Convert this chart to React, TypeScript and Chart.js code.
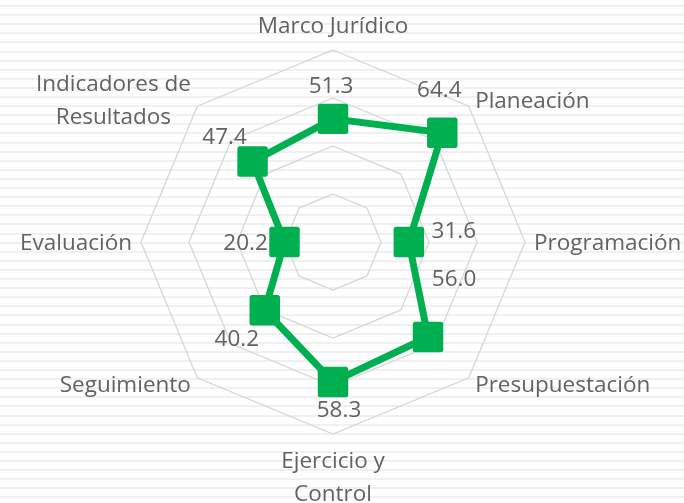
import React, { useEffect, useRef } from "react";
import { Chart, registerables } from "chart.js";

Chart.register(...registerables);

// ---------- data ----------
const CATEGORIES: (string | string[])[] = [
  "Marco Jurídico",
  "Planeación",
  "Programación",
  "Presupuestación",
  ["Ejercicio y", "Control"],
  "Seguimiento",
  "Evaluación",
  ["Indicadores de", "Resultados"],
];
const VALUES: number[] = [51.3, 64.4, 31.6, 56.0, 58.3, 40.2, 20.2, 47.4];
const SCALE_MIN = 0;
const SCALE_MAX = 80;
const SCALE_STEP = 20;

// ---------- style ----------
const GREEN = "#00B050";
const GRID = "#d6d6d6";
const TEXT = "#626262";
const FONT_FAMILY = "'Open Sans', 'Noto Sans', sans-serif";
const FONT_WEIGHT = 400;
const FONT_SIZE = 22.5;
const LINE_H = 33;
const LABEL_GAP = 9;
// data-label offsets from each marker (layout only)
const LABEL_OFFSETS: [number, number][] = [
  [-2, -34],
  [-3, -44],
  [45, -12],
  [26, -59],
  [6, 27],
  [-28, 28],
  [-39, 0],
  [-28, -26],
];

const W = 684;
const H = 503;

const roundJoinPlugin = {
  id: "roundJoin",
  beforeDatasetsDraw(chart: any) {
    chart.ctx.save();
    chart.ctx.lineJoin = "round";
  },
  afterDatasetsDraw(chart: any) {
    chart.ctx.restore();
  },
};

const pointLabelPlugin = {
  id: "customPointLabels",
  afterDraw(chart: any) {
    const scale = chart.scales.r;
    const ctx = chart.ctx as CanvasRenderingContext2D;
    ctx.save();
    ctx.font = `${FONT_WEIGHT} ${FONT_SIZE}px ${FONT_FAMILY}`;
    ctx.fillStyle = TEXT;
    ctx.textAlign = "center";
    ctx.textBaseline = "alphabetic";
    const cap = ctx.measureText("H").actualBoundingBoxAscent;
    (chart.data.labels as (string | string[])[]).forEach((lab, i) => {
      const lines = Array.isArray(lab) ? lab : [lab];
      const p = scale.getPointPosition(i, scale.drawingArea + LABEL_GAP);
      const cos = Math.cos(p.angle);
      const sin = Math.sin(p.angle);
      const blockW = Math.max(...lines.map((l) => ctx.measureText(l).width));
      const blockH = lines.length * LINE_H;
      let left = p.x - blockW / 2;
      if (cos > 0.1) left = p.x;
      else if (cos < -0.1) left = p.x - blockW;
      let cy = p.y;
      if (Math.abs(cos) <= 0.1) cy += (sin * blockH) / 2;
      lines.forEach((l, k) => {
        const lc = cy - blockH / 2 + LINE_H * (k + 0.5);
        ctx.fillText(l, left + blockW / 2, lc + cap / 2);
      });
    });
    ctx.restore();
  },
};

const dataLabelPlugin = {
  id: "customDataLabels",
  afterDraw(chart: any) {
    const meta = chart.getDatasetMeta(0);
    const ctx = chart.ctx as CanvasRenderingContext2D;
    ctx.save();
    ctx.font = `${FONT_WEIGHT} ${FONT_SIZE}px ${FONT_FAMILY}`;
    ctx.fillStyle = TEXT;
    ctx.textAlign = "center";
    ctx.textBaseline = "alphabetic";
    const cap = ctx.measureText("0").actualBoundingBoxAscent;
    const data = chart.data.datasets[0].data as number[];
    meta.data.forEach((el: any, i: number) => {
      const [dx, dy] = LABEL_OFFSETS[i];
      ctx.fillText(data[i].toFixed(1), el.x + dx, el.y + dy + cap / 2);
    });
    ctx.restore();
  },
};

export default function App() {
  const ref = useRef<HTMLCanvasElement | null>(null);

  useEffect(() => {
    if (!ref.current) return;
    const chart = new Chart(ref.current, {
      type: "radar",
      data: {
        labels: CATEGORIES as any,
        datasets: [
          {
            data: VALUES,
            borderColor: GREEN,
            backgroundColor: GREEN,
            borderWidth: 7,
            fill: false,
            tension: 0,
            borderJoinStyle: "round",
            pointStyle: "rect",
            pointRadius: 18,
            pointBorderWidth: 5,
            pointBackgroundColor: GREEN,
            pointBorderColor: GREEN,
          } as any,
        ],
      },
      options: {
        responsive: false,
        animation: false,
        events: [],
        devicePixelRatio: 1,
        layout: { padding: { left: 141, right: 159, top: 50, bottom: 69 } },
        plugins: {
          legend: { display: false },
          tooltip: { enabled: false },
          title: { display: false },
        },
        scales: {
          r: {
            min: SCALE_MIN,
            max: SCALE_MAX,
            ticks: { stepSize: SCALE_STEP, display: false },
            grid: { color: GRID, lineWidth: 1.3, circular: false },
            angleLines: { display: false },
            pointLabels: { display: false },
          },
        },
      },
      plugins: [roundJoinPlugin, pointLabelPlugin, dataLabelPlugin],
    });
    return () => chart.destroy();
  }, []);

  return (
    <div
      style={{
        position: "fixed",
        left: 0,
        top: 0,
        width: W,
        height: H,
        background:
          "repeating-linear-gradient(to bottom, #ffffff 0px, #ffffff 5px, #f0f0f0 5px, #f0f0f0 7px, #ffffff 7px, #ffffff 9.1px)",
      }}
    >
      <canvas ref={ref} width={W} height={H} style={{ display: "block" }} />
    </div>
  );
}
